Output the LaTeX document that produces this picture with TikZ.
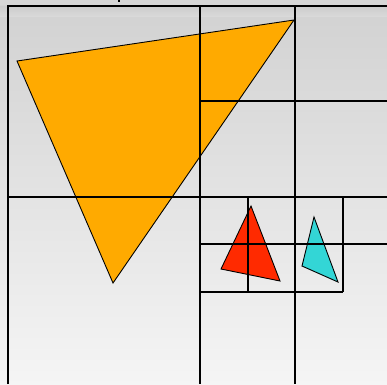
\documentclass[tikz,border=0pt]{standalone}
\begin{document}
\begin{tikzpicture}[x=1pt,y=-1pt,
  gridline/.style={draw=black,line width=1.8pt},
  tri/.style={draw=black,line width=0.9pt,line join=miter}]
\useasboundingbox (0,0) rectangle (387,384);
\shade[top color=black!18,bottom color=black!4] (0,0) rectangle (387,384);
\fill[black!16] (0,0) rectangle (387,5);
\fill[black!20] (0,6) rectangle (387,15);
\shade[top color=black!20,bottom color=black!15] (0,6) rectangle (387,16);
% triangles
\filldraw[tri,fill={rgb,255:red,255;green,170;blue,0}] (17,61) -- (294,20) -- (113,283) -- cycle;
\filldraw[tri,fill={rgb,255:red,255;green,42;blue,0}] (251,206) -- (221,269) -- (280,281) -- cycle;
\filldraw[tri,fill={rgb,255:red,51;green,214;blue,214}] (314,217) -- (302,266) -- (338,282) -- cycle;
% grid
\coordinate (tl) at (8,6);
\draw[gridline] (8,384) -- (8,6) -- (387,6);
\draw[gridline] (200,6) -- (200,384);
\draw[gridline] (295,6) -- (295,384);
\draw[gridline] (8,197) -- (387,197);
\draw[gridline] (200,101) -- (387,101);
\draw[gridline] (200,244) -- (387,244);
\draw[gridline] (200,292) -- (343,292);
\draw[gridline] (248,197) -- (248,292);
\draw[gridline] (343,197) -- (343,292);
\fill[black] (118,0) rectangle (120,2);
\end{tikzpicture}
\end{document}
